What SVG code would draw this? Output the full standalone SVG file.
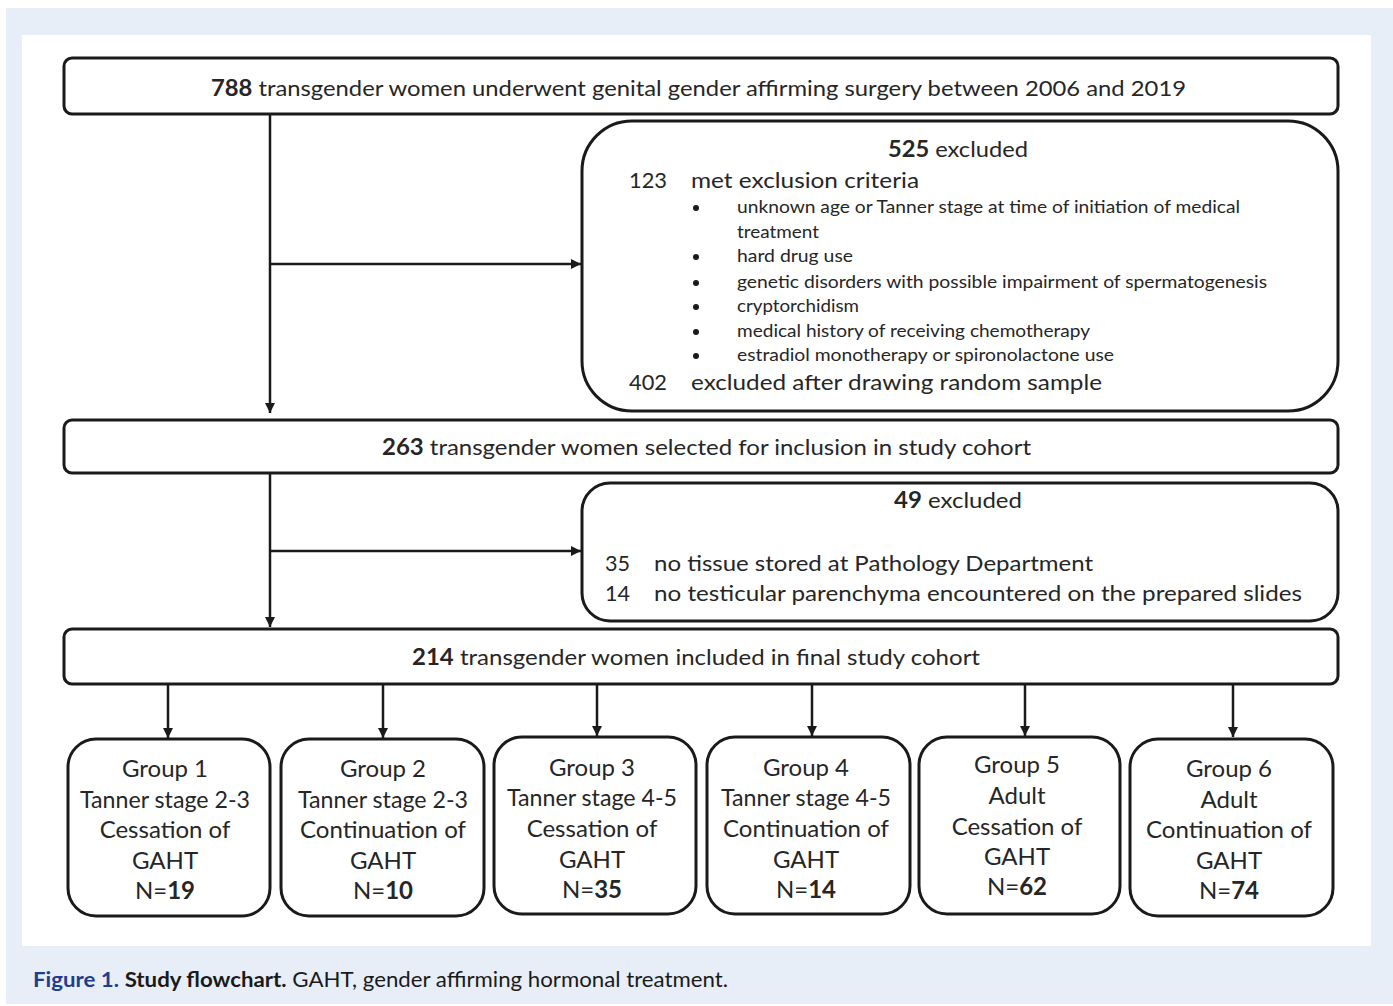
<svg xmlns="http://www.w3.org/2000/svg" width="1393" height="1006" viewBox="0 0 1393 1006">
<defs>
<style>
.box{fill:#fff;stroke:#1a1a1a;stroke-width:3}
.t{font-family:Lato,"Liberation Sans",sans-serif;fill:#262626}
.m{font-size:22px}
.s{font-size:17px}
.g{font-size:24px;text-anchor:middle}
.c{text-anchor:middle}
.b{font-weight:bold}
.ln{stroke:#1a1a1a;stroke-width:2.5;fill:none}
</style>
<marker id="ah" viewBox="0 0 10 10" refX="10" refY="5" markerWidth="4" markerHeight="4" orient="auto" markerUnits="strokeWidth">
<path d="M0,0 L10,5 L0,10 z" fill="#1a1a1a"/>
</marker>
</defs>
<rect x="6" y="8" width="1387" height="996" fill="#e7eef8"/>
<rect x="22" y="35" width="1349" height="911" fill="#fff"/>

<g id="connectors">
<line class="ln" x1="270" y1="115" x2="270" y2="413" marker-end="url(#ah)"/>
<line class="ln" x1="270" y1="264" x2="581" y2="264" marker-end="url(#ah)"/>
<line class="ln" x1="270" y1="474" x2="270" y2="627" marker-end="url(#ah)"/>
<line class="ln" x1="270" y1="551" x2="581" y2="551" marker-end="url(#ah)"/>
<line class="ln" x1="168" y1="685" x2="168" y2="738" marker-end="url(#ah)"/>
<line class="ln" x1="383" y1="685" x2="383" y2="738" marker-end="url(#ah)"/>
<line class="ln" x1="597" y1="685" x2="597" y2="736" marker-end="url(#ah)"/>
<line class="ln" x1="812" y1="685" x2="812" y2="736" marker-end="url(#ah)"/>
<line class="ln" x1="1025" y1="685" x2="1025" y2="736" marker-end="url(#ah)"/>
<line class="ln" x1="1233" y1="685" x2="1233" y2="737" marker-end="url(#ah)"/>
</g>

<g id="n788">
<rect class="box" x="64" y="58" width="1274" height="56" rx="8"/>
<text class="t m" x="211" y="96" textLength="975" lengthAdjust="spacingAndGlyphs"><tspan class="b">788</tspan> transgender women underwent genital gender affirming surgery between 2006 and 2019</text>
</g>

<g id="n525">
<rect class="box" x="582" y="121" width="756" height="290" rx="50"/>
<text class="t m" x="888" y="157" textLength="140" lengthAdjust="spacingAndGlyphs"><tspan class="b">525</tspan> excluded</text>
<text class="t m" x="629" y="188" textLength="38" lengthAdjust="spacingAndGlyphs">123</text>
<text class="t m" x="691" y="188" textLength="228" lengthAdjust="spacingAndGlyphs">met exclusion criteria</text>
<g fill="#1a1a1a">
<circle cx="696" cy="208" r="3"/>
<circle cx="696" cy="257" r="3"/>
<circle cx="696" cy="283" r="3"/>
<circle cx="696" cy="307" r="3"/>
<circle cx="696" cy="332" r="3"/>
<circle cx="696" cy="356" r="3"/>
</g>
<text class="t s" x="737" y="213" textLength="503" lengthAdjust="spacingAndGlyphs">unknown  age or Tanner stage at time of initiation of medical</text>
<text class="t s" x="737" y="238" textLength="82" lengthAdjust="spacingAndGlyphs">treatment</text>
<text class="t s" x="737" y="262" textLength="116" lengthAdjust="spacingAndGlyphs">hard drug  use</text>
<text class="t s" x="737" y="288" textLength="530" lengthAdjust="spacingAndGlyphs">genetic disorders with possible impairment  of spermatogenesis</text>
<text class="t s" x="737" y="312" textLength="122" lengthAdjust="spacingAndGlyphs">cryptorchidism</text>
<text class="t s" x="737" y="337" textLength="353" lengthAdjust="spacingAndGlyphs">medical history of receiving chemotherapy</text>
<text class="t s" x="737" y="361" textLength="377" lengthAdjust="spacingAndGlyphs">estradiol monotherapy  or spironolactone use</text>
<text class="t m" x="629" y="390" textLength="38" lengthAdjust="spacingAndGlyphs">402</text>
<text class="t m" x="691" y="390" textLength="411" lengthAdjust="spacingAndGlyphs">excluded after drawing random sample</text>
</g>

<g id="n263">
<rect class="box" x="64" y="420" width="1274" height="53" rx="8"/>
<text class="t m" x="382" y="455" textLength="649" lengthAdjust="spacingAndGlyphs"><tspan class="b">263</tspan> transgender women selected for inclusion in study cohort</text>
</g>

<g id="n49">
<rect class="box" x="582" y="483" width="756" height="138" rx="28"/>
<text class="t m" x="894" y="508" textLength="128" lengthAdjust="spacingAndGlyphs"><tspan class="b">49</tspan> excluded</text>
<text class="t m" x="605" y="571" textLength="25" lengthAdjust="spacingAndGlyphs">35</text>
<text class="t m" x="654" y="571" textLength="439" lengthAdjust="spacingAndGlyphs">no tissue stored at Pathology Department</text>
<text class="t m" x="605" y="601" textLength="25" lengthAdjust="spacingAndGlyphs">14</text>
<text class="t m" x="654" y="601" textLength="648" lengthAdjust="spacingAndGlyphs">no testicular parenchyma encountered on the prepared slides</text>
</g>

<g id="n214">
<rect class="box" x="64" y="629" width="1274" height="55" rx="8"/>
<text class="t m" x="412" y="665" textLength="568" lengthAdjust="spacingAndGlyphs"><tspan class="b">214</tspan> transgender women included in final study cohort</text>
</g>

<g id="g1">
<rect class="box" x="68" y="739" width="202" height="177" rx="28"/>
<text class="t g" x="165" y="777">Group 1</text>
<text class="t g" x="165" y="808" textLength="170" lengthAdjust="spacingAndGlyphs">Tanner stage 2-3</text>
<text class="t g" x="165" y="838">Cessation of</text>
<text class="t g" x="165" y="869">GAHT</text>
<text class="t g" x="165" y="899">N=<tspan class="b">19</tspan></text>
</g>
<g id="g2">
<rect class="box" x="281" y="739" width="203" height="177" rx="28"/>
<text class="t g" x="383" y="777">Group 2</text>
<text class="t g" x="383" y="808" textLength="170" lengthAdjust="spacingAndGlyphs">Tanner stage 2-3</text>
<text class="t g" x="383" y="838" textLength="166" lengthAdjust="spacingAndGlyphs">Continuation of</text>
<text class="t g" x="383" y="869">GAHT</text>
<text class="t g" x="383" y="899">N=<tspan class="b">10</tspan></text>
</g>
<g id="g3">
<rect class="box" x="494" y="737" width="202" height="177" rx="28"/>
<text class="t g" x="592" y="776">Group 3</text>
<text class="t g" x="592" y="806" textLength="170" lengthAdjust="spacingAndGlyphs">Tanner stage 4-5</text>
<text class="t g" x="592" y="837">Cessation of</text>
<text class="t g" x="592" y="868">GAHT</text>
<text class="t g" x="592" y="898">N=<tspan class="b">35</tspan></text>
</g>
<g id="g4">
<rect class="box" x="707" y="737" width="203" height="177" rx="28"/>
<text class="t g" x="806" y="776">Group 4</text>
<text class="t g" x="806" y="806" textLength="170" lengthAdjust="spacingAndGlyphs">Tanner stage 4-5</text>
<text class="t g" x="806" y="837" textLength="166" lengthAdjust="spacingAndGlyphs">Continuation of</text>
<text class="t g" x="806" y="868">GAHT</text>
<text class="t g" x="806" y="898">N=<tspan class="b">14</tspan></text>
</g>
<g id="g5">
<rect class="box" x="919" y="737" width="201" height="177" rx="28"/>
<text class="t g" x="1017" y="773">Group 5</text>
<text class="t g" x="1017" y="804">Adult</text>
<text class="t g" x="1017" y="835">Cessation of</text>
<text class="t g" x="1017" y="865">GAHT</text>
<text class="t g" x="1017" y="895">N=<tspan class="b">62</tspan></text>
</g>
<g id="g6">
<rect class="box" x="1130" y="739" width="203" height="177" rx="28"/>
<text class="t g" x="1229" y="777">Group 6</text>
<text class="t g" x="1229" y="808">Adult</text>
<text class="t g" x="1229" y="838" textLength="166" lengthAdjust="spacingAndGlyphs">Continuation of</text>
<text class="t g" x="1229" y="869">GAHT</text>
<text class="t g" x="1229" y="899">N=<tspan class="b">74</tspan></text>
</g>

<text x="33" y="987" font-family="Lato,'Liberation Sans',sans-serif" font-size="21" fill="#1a1a1a" textLength="695" lengthAdjust="spacingAndGlyphs"><tspan font-weight="bold" fill="#1f3d8f">Figure 1.</tspan> <tspan font-weight="bold">Study flowchart.</tspan> GAHT, gender affirming hormonal treatment.</text>
</svg>
